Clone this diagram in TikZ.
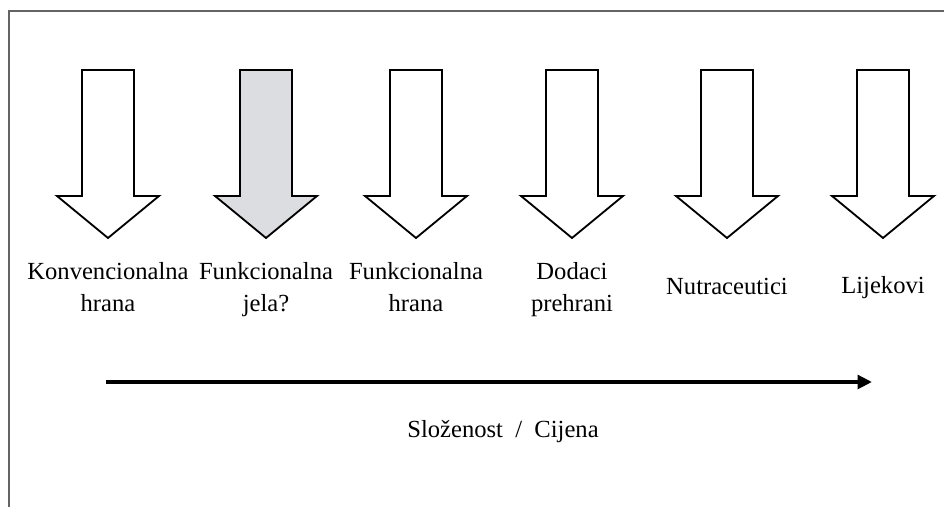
\documentclass[tikz,border=0pt]{standalone}
\usepackage{fontspec}
\setmainfont{Liberation Serif}
\usetikzlibrary{arrows.meta}
\definecolor{arrowgrey}{RGB}{220,221,224}
\definecolor{framegrey}{RGB}{100,100,100}

\begin{document}
\begin{tikzpicture}[block/.style={draw, line width=1.3pt, fill=white}, txt/.style={align=center, inner sep=0pt, anchor=north, font=\fontsize{17.5}{23}\selectfont}, frame/.style={draw=framegrey, line width=1.6pt}, axis/.style={-{Triangle[length=0.36cm, width=0.34cm]}, line width=2.8pt}]
            \useasboundingbox (0,0) rectangle (23.6,12.675);
            % frame
            \draw[frame] (23.6,12.4) -- (0.225,12.4) -- (0.225,0);
            % arrows
            \foreach \x/\f in {2.7/white, 6.65/arrowgrey, 10.4/white, 14.3/white, 18.175/white, 22.075/white}
                \draw[block, fill=\f, shift={(\x,0)}] (-0.65,10.925) -- (0.65,10.925) -- (0.65,7.775) -- (1.275,7.775) -- (0,6.725) -- (-1.275,7.775) -- (-0.65,7.775) -- cycle;
            % nodes
            \node[txt] (konv) at (2.7,6.13) {Konvencionalna\\hrana};
            \node[txt] (jela) at (6.65,6.13) {Funkcionalna\\jela?};
            \node[txt] (funk) at (10.4,6.13) {Funkcionalna\\hrana};
            \node[txt] (dodaci) at (14.3,6.13) {Dodaci\\prehrani};
            \node[txt] (nutra) at (18.175,5.72) {Nutraceutici};
            \node[txt] (lijek) at (22.075,5.78) {Lijekovi};
            \node[txt, anchor=center] (cijena) at (12.575,1.875) {Složenost\ \ /\ \ Cijena};
            % edges
            \coordinate (lo) at (2.65,3.125);
            \coordinate (hi) at (21.8,3.125);
            \draw[axis] (lo) -- (hi);
        \end{tikzpicture}
\end{document}
